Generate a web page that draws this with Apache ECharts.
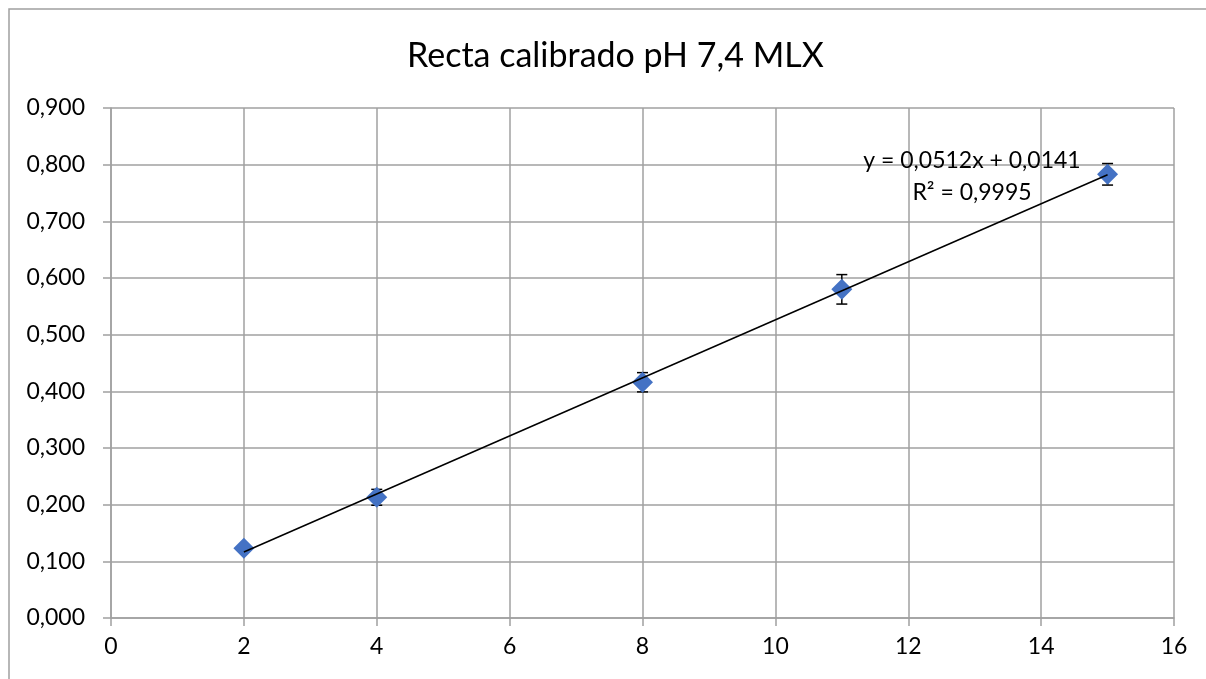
<!DOCTYPE html>
<html>
<head>
<meta charset="utf-8">
<script src="https://cdn.jsdelivr.net/npm/echarts@6/dist/echarts.min.js"></script>
<style>
html,body{margin:0;padding:0;background:#fff;}
#chart{width:1206px;height:679px;}
</style>
</head>
<body>
<div id="chart"></div>
<script>
const titleText = 'Recta calibrado pH 7,4 MLX';
const xValues = [2, 4, 8, 11, 15];
const yValues = [0.123, 0.213, 0.416, 0.580, 0.783];
const yErrors = [0.002, 0.014, 0.017, 0.026, 0.019];
const trendX = [2, 15];
const trendY = [0.1165, 0.7821];
const equationLines = ['y = 0,0512x + 0,0141', 'R² = 0,9995'];

const FONT = 'Lato';
const GRID = '#a0a0a0';

const pts = xValues.map((x, i) => [x, yValues[i]]);
const errData = xValues.map((x, i) => [x, yValues[i] - yErrors[i], yValues[i] + yErrors[i]]);
const trendData = trendX.map((x, i) => [x, trendY[i]]);

const chart = echarts.init(document.getElementById('chart'));
chart.setOption({
  animation: false,
  backgroundColor: '#fff',
  title: {
    text: titleText,
    left: 402,
    top: 34,
    textStyle: {fontFamily: FONT, fontSize: 34, fontWeight: 'normal', color: '#000'}
  },
  grid: {left: 111, right: 32, top: 108, bottom: 61},
  xAxis: {
    type: 'value', min: 0, max: 16, interval: 2,
    axisLine: {show: true, onZero: false, lineStyle: {color: GRID, width: 1.5}},
    axisTick: {show: true, length: 8, lineStyle: {color: GRID, width: 1.5}},
    splitLine: {show: true, lineStyle: {color: GRID, width: 1.5}},
    axisLabel: {fontFamily: FONT, fontSize: 23, color: '#000', margin: 17}
  },
  yAxis: {
    type: 'value', min: 0, max: 0.9, interval: 0.1,
    axisLine: {show: true, onZero: false, lineStyle: {color: GRID, width: 1.5}},
    axisTick: {show: true, length: 8, lineStyle: {color: GRID, width: 1.5}},
    splitLine: {show: true, lineStyle: {color: GRID, width: 1.5}},
    axisLabel: {fontFamily: FONT, fontSize: 23, color: '#000', margin: 26,
      formatter: v => v.toFixed(3).replace('.', ',')}
  },
  graphic: [
    {type: 'rect', shape: {x: 9, y: 9, width: 1300, height: 800}, silent: true,
      style: {fill: 'none', stroke: GRID, lineWidth: 1.5}, z: 0},
    {type: 'text', x: 972, y: 161, z: 100,
      style: {text: equationLines[0], fontFamily: FONT, fontSize: 23, fill: '#000', textAlign: 'center', textVerticalAlign: 'middle'}},
    {type: 'text', x: 972, y: 193, z: 100,
      style: {text: equationLines[1], fontFamily: FONT, fontSize: 23, fill: '#000', textAlign: 'center', textVerticalAlign: 'middle'}}
  ],
  series: [
    {
      type: 'line', data: trendData, symbol: 'none', z: 5,
      lineStyle: {color: '#000', width: 1.5}
    },
    {
      type: 'scatter', data: pts, symbol: 'diamond', symbolSize: [21, 21], z: 4,
      itemStyle: {color: '#4472C4', opacity: 1}
    },
    {
      type: 'custom', data: errData, z: 3,
      renderItem: function (params, api) {
        const x = api.value(0);
        const lo = api.coord([x, api.value(1)]);
        const hi = api.coord([x, api.value(2)]);
        const w = 5.5;
        const st = {stroke: '#000', lineWidth: 1.5};
        return {
          type: 'group',
          children: [
            {type: 'line', shape: {x1: hi[0], y1: hi[1], x2: lo[0], y2: lo[1]}, style: st},
            {type: 'line', shape: {x1: hi[0] - w, y1: hi[1], x2: hi[0] + w, y2: hi[1]}, style: st},
            {type: 'line', shape: {x1: lo[0] - w, y1: lo[1], x2: lo[0] + w, y2: lo[1]}, style: st}
          ]
        };
      }
    }
  ]
});
</script>
</body>
</html>
